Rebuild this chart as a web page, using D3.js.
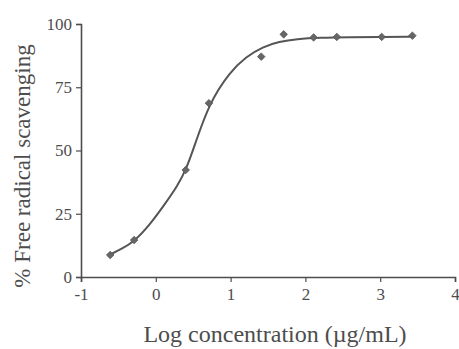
<!DOCTYPE html>
<html>
<head>
<meta charset="utf-8">
<script src="https://cdn.jsdelivr.net/npm/d3@7/dist/d3.min.js"></script>
<style>
  body { margin: 0; background: #fff; }
  svg { display: block; }
</style>
</head>
<body>
<div id="chart"></div>
<script>
// measured points (log conc, % scavenging)
const logConc = [-0.61, -0.29, 0.40, 0.71, 1.41, 1.71, 2.11, 2.42, 3.02, 3.43];
const scavenging = [8.7, 14.6, 42.3, 68.7, 87.1, 95.9, 94.7, 94.9, 94.9, 95.4];

// fitted curve
const curveX = [-0.61, -0.45, -0.29, -0.08, 0.14, 0.28, 0.40, 0.52, 0.71, 0.99, 1.21, 1.43, 1.65, 1.88, 2.2, 2.6, 3.0, 3.43];
const curveY = [8.9, 11.2, 14.0, 20.6, 29.6, 35.6, 42.0, 52.0, 68.5, 81.1, 87.1, 91.0, 93.0, 94.1, 94.6, 94.8, 94.9, 95.0];

const xTicks = [-1, 0, 1, 2, 3, 4];
const yTicks = [0, 25, 50, 75, 100];

const W = 459, H = 349;
const margin = { top: 24, right: 4, bottom: 72, left: 81 };
const ink = '#4d4d4d';

const svg = d3.select('#chart').append('svg')
  .attr('width', W)
  .attr('height', H);

const x = d3.scaleLinear().domain([-1, 4]).range([margin.left, W - margin.right]);
const y = d3.scaleLinear().domain([0, 100]).range([H - margin.bottom, margin.top]);

// x axis
const xAxis = svg.append('g')
  .attr('transform', `translate(0,${y(0)})`)
  .call(d3.axisBottom(x).tickValues(xTicks).tickSize(5).tickPadding(6).tickFormat(d => String(d)));

// y axis
const yAxis = svg.append('g')
  .attr('transform', `translate(${x(-1)},0)`)
  .call(d3.axisLeft(y).tickValues(yTicks).tickSize(5).tickPadding(4));

[xAxis, yAxis].forEach(g => {
  g.attr('font-family', '"Liberation Serif", serif');
  g.select('.domain').attr('stroke', ink).attr('stroke-width', 1.6);
  g.selectAll('.tick line').attr('stroke', ink).attr('stroke-width', 1.2);
  g.selectAll('.tick text')
    .attr('fill', ink)
    .style('font-family', '"Liberation Serif", serif')
    .style('font-size', '17px');
});

// fitted line
const line = d3.line()
  .x((d, i) => x(curveX[i]))
  .y(d => y(d))
  .curve(d3.curveBasis);

svg.append('path')
  .datum(curveY)
  .attr('d', line)
  .attr('fill', 'none')
  .attr('stroke', '#555')
  .attr('stroke-width', 2);

// diamond markers
const diamond = d3.symbol().type(d3.symbolDiamond2).size(36);
svg.selectAll('.pt')
  .data(scavenging)
  .enter()
  .append('path')
  .attr('class', 'pt')
  .attr('d', diamond)
  .attr('transform', (d, i) => `translate(${x(logConc[i])},${y(d)})`)
  .attr('fill', '#666')
  .attr('stroke', '#555')
  .attr('stroke-width', 0.8);

// axis titles
svg.append('text')
  .attr('x', 275)
  .attr('y', 342)
  .attr('text-anchor', 'middle')
  .attr('fill', ink)
  .style('font-family', '"Liberation Serif", serif')
  .style('font-size', '24px')
  .text('Log concentration (µg/mL)');

svg.append('text')
  .attr('transform', 'rotate(-90)')
  .attr('x', -166)
  .attr('y', 30)
  .attr('text-anchor', 'middle')
  .attr('fill', ink)
  .style('font-family', '"Liberation Serif", serif')
  .style('font-size', '23px')
  .text('% Free radical scavenging');
</script>
</body>
</html>
